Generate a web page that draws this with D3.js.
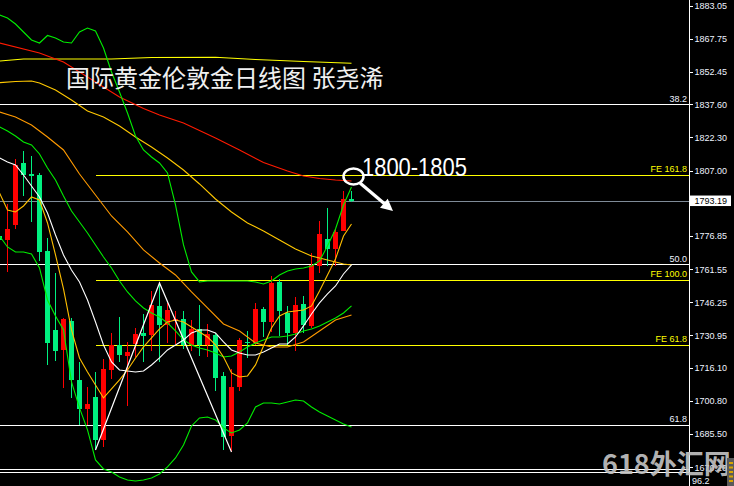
<!DOCTYPE html>
<html><head><meta charset="utf-8">
<script src="https://cdn.jsdelivr.net/npm/d3@7"></script>
<style>html,body{margin:0;padding:0;background:#000;overflow:hidden}</style>
</head><body>
<svg id="c" width="734" height="486"></svg>
<script>
// ---------- data (XAU/USD daily) ----------
const opens  = [1776.85,1775.00,1781.92,1810.51,1805.44,1804.98,1769.93,1733.50,1724.28,1737.65,1710.44,1697.07,1702.60,1682.77,1715.05,1726.58,1721.51,1727.04,1732.12,1731.19,1744.57,1735.81,1737.65,1738.57,1726.58,1733.96,1726.58,1731.19,1712.29,1684.62,1707.21,1727.97,1727.51,1743.18,1737.19,1755.64,1741.34,1732.12,1745.49,1735.35,1763.01,1775.47,1770.85,1779.15,1793.77];
const highs  = [1779.62,1791.61,1812.36,1816.05,1813.74,1805.90,1775.93,1759.79,1739.03,1739.03,1718.74,1707.21,1714.13,1720.13,1732.12,1739.50,1727.97,1734.42,1740.88,1751.49,1755.17,1745.95,1742.26,1742.26,1738.11,1745.03,1736.27,1732.12,1714.13,1715.52,1729.81,1733.04,1745.95,1744.11,1758.40,1757.02,1744.57,1748.72,1749.18,1769.01,1783.77,1789.76,1780.08,1797.60,1797.60];
const lows   = [1774.08,1760.25,1780.08,1795.29,1783.30,1765.32,1717.36,1719.20,1706.75,1702.14,1689.69,1689.69,1678.16,1679.55,1710.90,1718.74,1698.45,1721.05,1718.74,1723.82,1718.74,1727.51,1727.04,1724.74,1723.82,1721.51,1721.05,1705.37,1678.16,1677.24,1705.37,1720.59,1726.58,1730.27,1732.58,1730.73,1726.58,1723.82,1732.12,1734.42,1759.79,1763.01,1763.01,1779.15,1792.53];
const closes = [1775.00,1780.08,1809.59,1804.98,1804.52,1769.47,1727.51,1723.82,1738.57,1710.44,1697.07,1699.38,1682.77,1715.52,1726.58,1721.97,1723.36,1731.66,1730.73,1745.03,1735.81,1742.72,1738.57,1726.58,1733.96,1726.58,1731.66,1711.37,1684.16,1707.21,1728.89,1727.51,1743.18,1737.19,1755.17,1742.26,1732.12,1745.03,1735.81,1763.48,1777.77,1770.85,1778.69,1793.77,1793.19];

// indicator values per bar
const ma5  = [1796.68,1788.84,1787.92,1790.68,1794.83,1793.45,1782.84,1768.09,1752.41,1733.50,1720.59,1714.13,1708.14,1702.14,1706.29,1710.44,1715.05,1720.59,1725.66,1729.81,1733.96,1737.19,1738.11,1737.19,1734.88,1732.58,1730.27,1726.58,1721.05,1713.67,1711.83,1712.29,1717.36,1726.12,1734.42,1739.96,1741.80,1742.26,1742.72,1744.57,1751.49,1758.86,1766.24,1776.85,1782.38];
const ma10 = [1812.82,1810.97,1809.59,1804.98,1799.91,1794.83,1787.46,1777.31,1768.09,1761.17,1755.64,1747.33,1737.19,1726.58,1718.74,1715.05,1714.59,1714.13,1714.59,1717.36,1720.59,1724.28,1726.58,1728.89,1732.12,1733.50,1733.50,1732.12,1727.97,1724.28,1722.89,1721.97,1721.97,1723.36,1725.20,1727.04,1727.04,1730.27,1735.35,1740.88,1745.95,1750.10,1753.79,1759.32,1763.48];
const bbUpper = [1878.76,1877.38,1874.61,1870.92,1867.23,1865.85,1869.31,1868.16,1866.31,1865.85,1870.92,1872.77,1871.38,1863.54,1852.48,1843.25,1833.57,1822.96,1816.51,1813.28,1810.51,1805.90,1791.14,1772.70,1760.25,1755.64,1756.10,1756.10,1756.10,1756.10,1756.10,1756.10,1755.64,1754.71,1756.10,1758.86,1760.71,1761.63,1762.09,1763.01,1765.32,1772.24,1780.08,1791.14,1799.44];
const bbMid = [1827.11,1825.27,1822.96,1820.20,1818.81,1814.66,1808.21,1802.67,1795.29,1788.38,1783.30,1778.23,1772.70,1767.16,1762.09,1756.10,1751.02,1746.87,1743.65,1741.34,1739.50,1736.73,1733.04,1728.89,1726.58,1725.20,1724.28,1722.89,1721.05,1721.51,1723.36,1725.66,1727.51,1728.89,1730.27,1730.27,1730.73,1731.66,1733.04,1733.96,1735.35,1737.19,1739.03,1741.34,1744.57];
const bbLower = [1776.85,1771.78,1769.47,1769.47,1768.55,1762.09,1747.33,1739.96,1733.50,1709.52,1697.53,1687.39,1673.55,1669.40,1668.02,1665.71,1664.33,1663.87,1664.33,1665.25,1667.09,1670.32,1674.47,1680.47,1689.23,1692.92,1693.38,1692.00,1688.31,1686.00,1687.39,1690.61,1697.99,1699.84,1699.84,1699.38,1700.30,1701.22,1700.76,1697.99,1695.68,1693.84,1692.00,1690.15,1688.77];
// slower averages, read as [bar, price]
const maMid  = [[0,1847.54],[2,1848.10],[4,1848.33],[5,1847.40],[7,1844.18],[9,1839.56],[11,1834.49],[13,1831.73],[15,1827.58],[17,1822.50],[19,1817.89],[21,1812.82],[23,1807.28],[25,1800.83],[27,1793.91],[29,1787.92],[31,1782.84],[33,1779.15],[35,1775.00],[37,1770.85],[39,1767.63],[41,1765.78],[43,1763.94],[44,1763.48]];
const maSlow = [[0,1834.03],[2,1831.73],[4,1828.04],[6,1822.50],[8,1816.51],[10,1805.44],[12,1795.76],[14,1786.07],[16,1778.69],[18,1770.39],[20,1764.40],[22,1758.86],[24,1751.02],[26,1743.65],[28,1736.27],[30,1733.04],[32,1727.51],[34,1725.66],[36,1725.66],[38,1727.97],[40,1733.04],[42,1738.11],[44,1740.42]];
const maRed  = [[0,1865.85],[5,1861.24],[8,1857.09],[12,1847.87],[15,1840.95],[18,1835.65],[20,1832.65],[23,1828.96],[27,1822.04],[30,1816.51],[33,1810.74],[36,1806.82],[38,1804.52],[40,1803.37],[42,1802.67],[44,1802.21]];
const maYellow = [[0,1857.55],[3,1858.47],[14,1858.47],[19,1859.16],[27,1859.26],[32,1858.24],[38,1857.32],[44,1856.49]];
const zigzag = [[12,1678.16],[20,1755.17],[29,1677.24]];

// fibonacci / expansion levels
const fibLabels = ["38.2","FE 161.8","50.0","FE 100.0","FE 61.8","61.8"];
const fibPrices = [1837.58,1804.98,1763.80,1756.56,1726.58,1689.69];
const fibKinds  = ["fibo","fe","fibo","fe","fe","fibo"];
const feStartBar = 12;
const bottomLevels = [1669.17,1668.01];
const bottomLabel = "96.2";
const lastPrice = 1793.19;
const tickValues = [1883.05,1867.75,1852.45,1837.60,1822.30,1807.00,1791.70,1776.85,1761.55,1746.25,1730.95,1716.10,1700.80,1685.50,1670.20];

const title = "国际黄金伦敦金日线图 张尧浠";
const noteText = "1800-1805";
const noteBars   = [44.25, 45.06, 49.19, 45.31]; // circle, arrow start, arrow tip, text
const notePrices = [1804.29, 1801.29, 1788.38, 1804.52];
const watermark = "618外汇网";

// ---------- drawing ----------
const svg = d3.select('#c');
const plotR = 689;
const x = d3.scaleLinear().domain([0, 44]).range([-0.5, 351.5]);
const y = d3.scaleLinear().domain([1670.20, 1883.05]).range([467.2, 5.7]);
const cy = p => Math.round(y(p)) + 0.5;

svg.append('rect').attr('width',734).attr('height',486).attr('fill','#000');
svg.append('defs').append('clipPath').attr('id','clip')
  .append('rect').attr('x',0).attr('y',0).attr('width',plotR).attr('height',486);
const plot = svg.append('g').attr('clip-path','url(#clip)');

// horizontal levels
const hl = plot.append('g').attr('shape-rendering','crispEdges');
fibPrices.forEach((p,k)=>{
  const fe = fibKinds[k]==='fe';
  hl.append('line').attr('x1', fe ? x(feStartBar) : 0).attr('x2', plotR)
    .attr('y1', cy(p)).attr('y2', cy(p))
    .attr('stroke', fe ? '#ffff00' : '#ffffff').attr('stroke-width',1);
});
bottomLevels.forEach(p=>{
  hl.append('line').attr('x1',0).attr('x2',plotR).attr('y1',cy(p)).attr('y2',cy(p))
    .attr('stroke','#ffffff').attr('stroke-width',1);
});
hl.append('line').attr('x1',0).attr('x2',plotR).attr('y1',cy(lastPrice)).attr('y2',cy(lastPrice))
  .attr('stroke','#7f8b98').attr('stroke-width',1);

// candles
const red = '#ff0000', green = '#00f080';
const cg = plot.append('g').attr('shape-rendering','crispEdges');
opens.forEach((o,i)=>{
  const c = closes[i], up = c >= o, col = up ? red : green;
  cg.append('rect').attr('x', x(i)-0.5).attr('width',1)
    .attr('y', y(highs[i])).attr('height', Math.max(1, y(lows[i])-y(highs[i])))
    .attr('fill', col);
  const top = y(Math.max(o,c)), bot = y(Math.min(o,c));
  cg.append('rect').attr('x', x(i)-2.5).attr('width',5)
    .attr('y', top).attr('height', Math.max(1.5, bot-top)).attr('fill', col);
});

// indicator lines
const line = d3.line().x(d=>x(d[0])).y(d=>y(d[1]));
const perBar = arr => arr.map((v,i)=>[i,v]);
const series = [
  [maYellow, '#ffff00'],
  [maRed, '#ff1a00'],
  [maSlow, '#ff9a00'],
  [maMid, '#ffc800'],
  [perBar(bbUpper), '#00ee00'],
  [perBar(bbMid), '#00ee00'],
  [perBar(bbLower), '#00ee00'],
  [perBar(ma10), '#ffffff'],
  [perBar(ma5), '#ffbf00'],
];
series.forEach(([d,col])=>{
  plot.append('path').attr('d', line(d)).attr('fill','none')
    .attr('stroke', col).attr('stroke-width',1.1);
});
plot.append('path').attr('d', line(zigzag)).attr('fill','none')
  .attr('stroke','#ffffff').attr('stroke-width',1.2);

// level labels
fibLabels.forEach((t,k)=>{
  const fe = fibKinds[k]==='fe';
  svg.append('text').attr('x',687).attr('y', y(fibPrices[k]) - 2.5)
    .attr('text-anchor','end').attr('fill', fe ? '#ffff00' : '#eef3ff')
    .style('font','9px "Liberation Sans", Arial, sans-serif').text(t);
});

// title
svg.append('text').attr('x',66).attr('y',87).attr('fill','#f0f0f0')
  .style('font','24px "Noto Sans CJK SC", sans-serif').text(title);

// annotation
const an = svg.append('g');
an.append('ellipse').attr('cx', x(noteBars[0])).attr('cy', y(notePrices[0]))
  .attr('rx',10).attr('ry',8).attr('fill','none').attr('stroke','#ffffff').attr('stroke-width',2.5);
const ax0 = x(noteBars[1]), ay0 = y(notePrices[1]), ax1 = x(noteBars[2]), ay1 = y(notePrices[2]);
const dx = ax1-ax0, dy = ay1-ay0, len = Math.hypot(dx,dy), ux = dx/len, uy = dy/len;
const hx = ax1 - ux*12, hy = ay1 - uy*12;
an.append('line').attr('x1',ax0).attr('y1',ay0).attr('x2',hx+ux*2).attr('y2',hy+uy*2)
  .attr('stroke','#ffffff').attr('stroke-width',3.2);
an.append('path').attr('d', `M${ax1},${ay1}L${hx-uy*6},${hy+ux*6}L${hx+uy*6},${hy-ux*6}Z`)
  .attr('fill','#ffffff');
an.append('text').attr('x', x(noteBars[3])).attr('y', y(notePrices[3]))
  .attr('fill','#ffffff').attr('textLength',105).attr('lengthAdjust','spacingAndGlyphs')
  .style('font','26px "Liberation Sans", Arial, sans-serif').text(noteText);

// price axis (the label under the last-price box is hidden by it, as in the source)
const covered = v => Math.abs(y(v) - y(lastPrice)) < 6;
const fmt = d3.format('.2f');
const axis = d3.axisRight(y).tickValues(tickValues).tickSize(3).tickPadding(2)
  .tickFormat(v => covered(v) ? '' : fmt(v));
const ag = svg.append('g').attr('transform',`translate(${plotR+0.5},0)`).call(axis);
ag.select('.domain').remove();
ag.selectAll('line').attr('stroke','#ffffff').attr('shape-rendering','crispEdges');
ag.selectAll('text').attr('fill','#eef3ff')
  .style('font','9px "Liberation Sans", Arial, sans-serif');
svg.append('line').attr('x1',plotR+0.5).attr('x2',plotR+0.5).attr('y1',0).attr('y2',486)
  .attr('stroke','#ffffff').attr('shape-rendering','crispEdges');

// last price box
const lp = y(lastPrice);
svg.append('rect').attr('x',690).attr('y',lp-5).attr('width',41).attr('height',10.5).attr('fill','#ffffff');
svg.append('text').attr('x',694.5).attr('y',lp).attr('dy','0.34em').attr('fill','#000')
  .style('font','9px "Liberation Sans", Arial, sans-serif').text(fmt(lastPrice));

// bottom label
svg.append('text').attr('x',692).attr('y', y(bottomLevels[1]) + 12).attr('fill','#eef3ff')
  .style('font','9px "Liberation Sans", Arial, sans-serif').text(bottomLabel);

// watermark
svg.append('text').attr('x',602).attr('y',474).attr('fill','#c4c4c4').attr('fill-opacity',0.92)
  .style('font','bold 27px "Noto Sans CJK SC", sans-serif').text(watermark);
const ic = svg.append('g');
ic.append('rect').attr('x',727).attr('y',458).attr('width',7).attr('height',28).attr('fill','#5a5a5a');
d3.range(5).forEach(k=>{
  ic.append('rect').attr('x',729).attr('y',462+k*4.5).attr('width',4).attr('height',2).attr('fill','#d9a400');
});
</script>
</body></html>
